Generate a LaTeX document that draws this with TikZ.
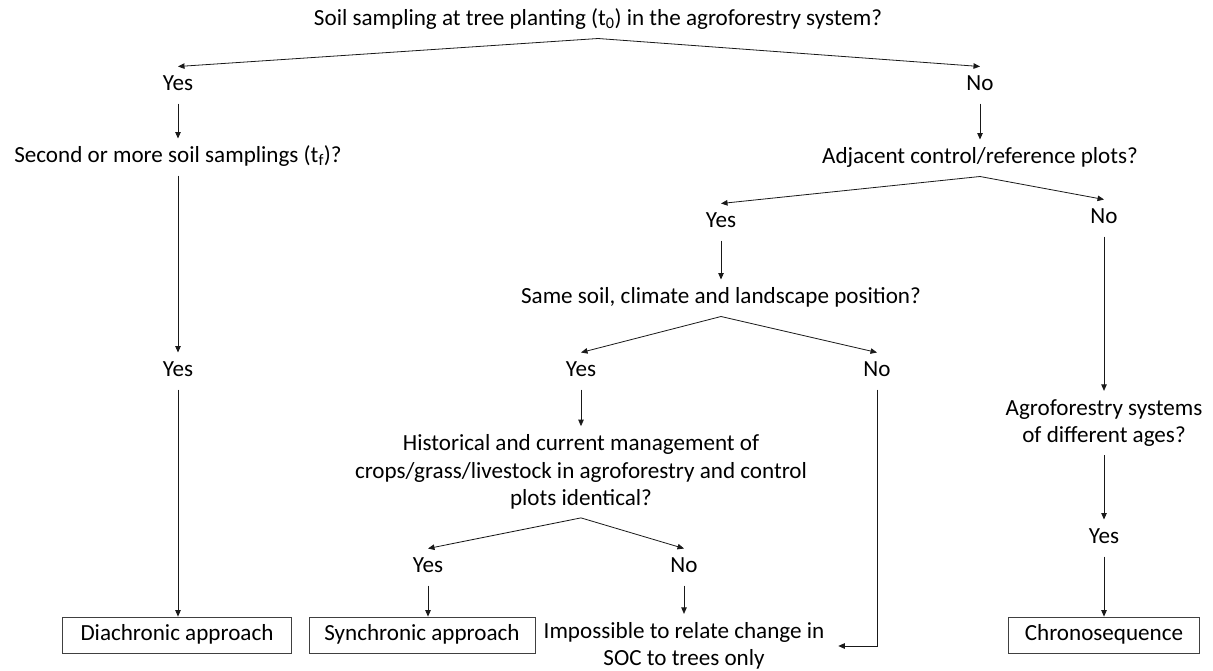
\documentclass[tikz,border=0pt]{standalone}
\usepackage{fontspec}
\setmainfont{Carlito}
\usetikzlibrary{arrows.meta}
\newcommand\myfs{\fontsize{23.1}{27.5}\selectfont}
\begin{document}
\begin{tikzpicture}[x=1pt,y=1pt,
  lbl/.style={font=\myfs, text=black, inner xsep=1pt, inner ysep=0pt, outer ysep=8.5pt, outer xsep=0pt, text height=15pt, text depth=5pt},
  mlbl/.style={font=\myfs, text=black, align=center, inner xsep=1pt, inner ysep=0pt, outer ysep=8.5pt},
  resbox/.style={draw=black!75, line width=0.8pt, font=\myfs, text=black, minimum height=36pt, inner sep=0pt, text height=15pt, text depth=5pt},
  arr/.style={draw=black!90, line width=0.8pt, -{Triangle[length=6.5pt,width=5.5pt]}},
  ln/.style={draw=black!90, line width=0.8pt}]
\fill[white] (0,0) rectangle (1213,-670);
\useasboundingbox (0,0) rectangle (1213,-670);

% level 1
\node[lbl] (q1) at (598,-20) {Soil sampling at tree planting (t\textsubscript{0}) in the agroforestry system?};
\node[lbl] (yes1) at (178,-85) {Yes};
\node[lbl] (no1) at (980,-85) {No};
% left branch
\node[lbl] (q2) at (178,-157) {Second or more soil samplings (t\textsubscript{f})?};
\node[lbl] (yes2) at (178,-371) {Yes};
\node[resbox, minimum width=229pt] (b1) at (177,-635) {Diachronic approach};
% right branch
\node[lbl] (adj) at (980,-158) {Adjacent control/reference plots?};
\node[lbl] (yes3) at (721,-222) {Yes};
\node[lbl] (no3) at (1104,-218) {No};
\node[lbl] (same) at (721,-298) {Same soil, climate and landscape position?};
\node[lbl] (yes4) at (581,-371) {Yes};
\node[lbl] (no4) at (877,-371) {No};
\node[mlbl] (hist) at (581,-472) {Historical and current management of\\crops/grass/livestock in agroforestry and control\\plots identical?};
\node[lbl] (yes5) at (428,-567) {Yes};
\node[lbl] (no5) at (684,-567) {No};
\node[resbox, minimum width=226pt] (b2) at (422,-635) {Synchronic approach};
\node[mlbl, inner xsep=0pt, outer xsep=14pt] (imp) at (684,-646) {Impossible to relate change in\\SOC to trees only};
\node[mlbl] (agro) at (1104,-423) {Agroforestry systems\\of different ages?};
\node[lbl] (yes6) at (1104,-538) {Yes};
\node[resbox, minimum width=191pt] (b3) at (1104,-635) {Chronosequence};

% connectors
\draw[arr] (q1.south) -- (yes1.north);
\draw[arr] (q1.south) -- (no1.north);
\draw[arr] (yes1.south) -- (q2.north);
\draw[arr] (q2.south) -- (yes2.north);
\draw[arr] (yes2.south) -- (yes2.south |- b1.north);
\draw[arr] (no1.south) -- (adj.north);
\draw[arr] (adj.south) -- (yes3.north);
\draw[arr] (adj.south) -- (no3.north);
\draw[arr] (yes3.south) -- (same.north);
\draw[arr] (same.south) -- (yes4.north);
\draw[arr] (same.south) -- (no4.north);
\draw[arr] (yes4.south) -- (hist.north);
\draw[arr] (hist.south) -- (yes5.north);
\draw[arr] (hist.south) -- (no5.north);
\draw[arr] (yes5.south) -- (yes5.south |- b2.north);
\draw[arr] (no5.south) -- (imp.north);
\draw[arr] (no4.south) |- (imp.east);
\draw[arr] (no3.south) -- (agro.north);
\draw[arr] (agro.south) -- (yes6.north);
\draw[arr] (yes6.south) -- (b3.north);
\end{tikzpicture}
\end{document}
